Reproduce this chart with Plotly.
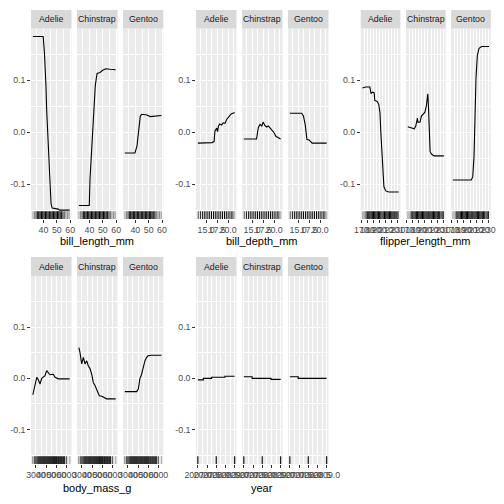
import plotly.graph_objects as go

species = ["Adelie", "Chinstrap", "Gentoo"]

# ---------------- partial dependence curves ----------------
bill_length_adelie_x = [32.1, 39.8, 40.7, 41.4, 41.9, 42.4, 43.2, 44.2, 44.9, 45.7, 46.6, 51.1, 52.0, 59.6]
bill_length_adelie_y = [0.184, 0.184, 0.155, 0.122, 0.090, 0.044, -0.001, -0.047, -0.099, -0.138, -0.146, -0.148, -0.150, -0.150]
bill_length_chinstrap_x = [32.1, 39.9, 40.4, 41.2, 42.4, 43.4, 44.4, 45.7, 47.9, 49.9, 52.4, 55.4, 59.6]
bill_length_chinstrap_y = [-0.141, -0.141, -0.092, -0.053, -0.001, 0.051, 0.090, 0.113, 0.115, 0.119, 0.122, 0.121, 0.120]
bill_length_gentoo_x = [32.1, 39.7, 41.2, 42.4, 43.7, 44.9, 48.7, 51.1, 54.8, 57.3, 59.6]
bill_length_gentoo_y = [-0.040, -0.040, -0.027, -0.001, 0.031, 0.0345, 0.033, 0.030, 0.031, 0.032, 0.032]

bill_depth_adelie_x = [13.1, 16.3, 16.8, 17.0, 17.4, 17.6, 17.8, 18.1, 18.5, 18.9, 19.3, 19.7, 20.2, 20.7, 21.5]
bill_depth_adelie_y = [-0.021, -0.020, -0.018, 0.002, 0.008, 0.001, 0.012, 0.016, 0.014, 0.018, 0.017, 0.025, 0.030, 0.035, 0.038]
bill_depth_chinstrap_x = [13.1, 16.0, 16.4, 16.8, 17.2, 17.5, 17.9, 18.3, 18.7, 19.1, 19.4, 20.0, 20.4, 21.5]
bill_depth_chinstrap_y = [-0.013, -0.013, 0.009, 0.015, 0.012, 0.0195, 0.013, 0.010, 0.012, 0.009, 0.005, -0.001, -0.008, -0.013]
bill_depth_gentoo_x = [13.1, 15.8, 16.2, 16.6, 17.0, 17.5, 18.2, 21.5]
bill_depth_gentoo_y = [0.0365, 0.0365, 0.031, 0.015, -0.014, -0.015, -0.021, -0.021]

flipper_adelie_x = [172, 177, 184, 186, 188, 191, 192, 196, 198.5, 200.5, 202, 203.5, 205.5, 207, 210, 215, 231]
flipper_adelie_y = [0.085, 0.087, 0.087, 0.074, 0.077, 0.076, 0.061, 0.059, 0.054, 0.038, -0.001, -0.040, -0.079, -0.105, -0.113, -0.115, -0.115]
flipper_chinstrap_x = [172, 178, 182.5, 185, 187.7, 188.8, 192, 194.2, 197.5, 199.8, 202.4, 204.7, 205.7, 206.8, 208.5, 210.6, 215, 231]
flipper_chinstrap_y = [0.0105, 0.0086, 0.0066, 0.012, 0.027, 0.019, 0.0195, 0.031, 0.0345, 0.038, 0.051, 0.074, 0.051, -0.001, -0.037, -0.042, -0.0455, -0.0455]
flipper_gentoo_x = [172, 202, 204.4, 206.5, 208.2, 209.8, 212, 214.7, 219, 231]
flipper_gentoo_y = [-0.092, -0.092, -0.086, -0.047, 0.031, 0.106, 0.148, 0.1615, 0.165, 0.165]

body_mass_adelie_x = [2700, 2900, 3080, 3240, 3400, 3570, 3720, 3890, 4050, 4210, 4380, 4700, 4870, 5190, 6300]
body_mass_adelie_y = [-0.032, -0.014, 0.002, -0.003, -0.011, 0.0, 0.002, 0.005, 0.015, 0.010, 0.007, 0.008, 0.002, -0.001, -0.001]
body_mass_chinstrap_x = [2700, 2810, 2980, 3140, 3300, 3470, 3620, 3790, 3960, 4110, 4280, 4450, 4600, 4700, 4940, 5260, 5420, 6300]
body_mass_chinstrap_y = [0.060, 0.0505, 0.028, 0.041, 0.028, 0.034, 0.0245, 0.019, 0.008, -0.008, -0.014, -0.021, -0.030, -0.034, -0.035, -0.039, -0.040, -0.040]
body_mass_gentoo_x = [2700, 3860, 4020, 4180, 4350, 4500, 4670, 4840, 4990, 5330, 6300]
body_mass_gentoo_y = [-0.026, -0.026, -0.021, -0.001, 0.008, 0.021, 0.034, 0.041, 0.044, 0.045, 0.045]

year_adelie_x = [2007, 2007.3, 2007.75, 2008.47, 2009]
year_adelie_y = [-0.003, 0.0, 0.002, 0.004, 0.004]
year_chinstrap_x = [2007, 2007.45, 2008.47, 2009]
year_chinstrap_y = [0.003, 0.0, -0.002, -0.002]
year_gentoo_x = [2007, 2007.45, 2009]
year_gentoo_y = [0.003, 0.0, 0.0]

# ---------------- rug (observed values and counts) ----------------
rug_bill_length = [32.1, 33.3, 34.5, 35.5, 36.5, 37.5, 38.5, 39.5, 40.5, 41.5, 42.5, 43.5, 44.5, 45.5,
                   46.5, 47.5, 48.5, 49.5, 50.5, 51.5, 52.5, 53.5, 54.5, 55.5, 56.5, 57.5, 58.3, 59.6]
rug_bill_length_n = [1, 2, 4, 8, 14, 18, 17, 22, 17, 15, 14, 11, 9, 19, 24, 14, 12, 20, 24, 16, 12, 7, 4, 4, 1, 1, 2, 1]

rug_bill_depth = [13.2, 13.7, 14.2, 14.7, 15.2, 15.7, 16.2, 16.7, 17.2, 17.7, 18.2, 18.7, 19.2, 19.7,
                  20.2, 20.7, 21.1, 21.5]
rug_bill_depth_n = [3, 6, 10, 18, 18, 13, 14, 16, 23, 24, 30, 30, 28, 21, 12, 8, 5, 1]

rug_flipper = [172, 174, 176, 178, 180, 182, 184, 186, 188, 190, 192, 194, 196, 198, 200, 202, 204,
               206, 208, 210, 212, 214, 216, 218, 220, 222, 224, 226, 228, 230]
rug_flipper_n = [1, 1, 2, 4, 7, 6, 12, 18, 17, 33, 22, 20, 24, 16, 12, 10, 5, 6, 12, 20, 12, 14, 16,
                 10, 14, 9, 7, 4, 6, 8]

rug_body_mass = [2700, 2850, 2900, 3000, 3100, 3200, 3300, 3400, 3500, 3600, 3700, 3800, 3900, 4000,
                 4100, 4200, 4300, 4400, 4500, 4600, 4700, 4800, 4900, 5000, 5100, 5200, 5300, 5400,
                 5500, 5600, 5700, 5800, 5950, 6000, 6300]
rug_body_mass_n = [2, 1, 5, 4, 4, 8, 14, 16, 18, 17, 22, 23, 17, 13, 12, 14, 11, 14, 10, 11, 14, 11,
                   9, 11, 5, 8, 5, 6, 6, 5, 6, 6, 1, 3, 1]

rug_year = [2007, 2008, 2009]
rug_year_n = [110, 114, 120]

# ---------------- axis breaks ----------------
y_range = [-0.167, 0.1995]
y_major = [-0.1, 0.0, 0.1]
y_major_text = ["-0.1", "0.0", "0.1"]
y_minor = [-0.15, -0.05, 0.05, 0.15]

panels = [
    dict(title="bill_length_mm", xr=[30.725, 60.975], major=[40, 50, 60], text=["40", "50", "60"],
         minor=[35, 45, 55],
         curves=[(bill_length_adelie_x, bill_length_adelie_y), (bill_length_chinstrap_x, bill_length_chinstrap_y),
                 (bill_length_gentoo_x, bill_length_gentoo_y)],
         rug=(rug_bill_length, rug_bill_length_n), col=0, row=0, shape="linear"),
    dict(title="bill_depth_mm", xr=[12.68, 21.92], major=[15.0, 17.5, 20.0], text=["15.0", "17.5", "20.0"],
         minor=[13.75, 16.25, 18.75, 21.25],
         curves=[(bill_depth_adelie_x, bill_depth_adelie_y), (bill_depth_chinstrap_x, bill_depth_chinstrap_y),
                 (bill_depth_gentoo_x, bill_depth_gentoo_y)],
         rug=(rug_bill_depth, rug_bill_depth_n), col=1, row=0, shape="linear"),
    dict(title="flipper_length_mm", xr=[169.05, 233.95], major=[170, 180, 190, 200, 210, 220, 230],
         text=["170", "180", "190", "200", "210", "220", "230"],
         minor=[175, 185, 195, 205, 215, 225],
         curves=[(flipper_adelie_x, flipper_adelie_y), (flipper_chinstrap_x, flipper_chinstrap_y),
                 (flipper_gentoo_x, flipper_gentoo_y)],
         rug=(rug_flipper, rug_flipper_n), col=2, row=0, shape="linear"),
    dict(title="body_mass_g", xr=[2520, 6480], major=[3000, 4000, 5000, 6000],
         text=["3000", "4000", "5000", "6000"], minor=[3500, 4500, 5500],
         curves=[(body_mass_adelie_x, body_mass_adelie_y), (body_mass_chinstrap_x, body_mass_chinstrap_y),
                 (body_mass_gentoo_x, body_mass_gentoo_y)],
         rug=(rug_body_mass, rug_body_mass_n), col=0, row=1, shape="linear"),
    dict(title="year", xr=[2006.9, 2009.1], major=[2007.0, 2007.5, 2008.0, 2008.5, 2009.0],
         text=["2007.0", "2007.5", "2008.0", "2008.5", "2009.0"],
         minor=[2007.25, 2007.75, 2008.25, 2008.75],
         curves=[(year_adelie_x, year_adelie_y), (year_chinstrap_x, year_chinstrap_y),
                 (year_gentoo_x, year_gentoo_y)],
         rug=(rug_year, rug_year_n), col=1, row=1, shape="hv"),
]

# ---------------- geometry (pixels) ----------------
W = H = 504
col_x = [
    [(31, 71.5), (77, 117.5), (123, 163.3)],
    [(196, 236.5), (242, 282.5), (288, 328.5)],
    [(360.7, 400.4), (406, 445.7), (451.1, 490.8)],
]
row_y = [
    dict(strip=(10, 28.5), panel=(28.5, 219), title=241),
    dict(strip=(257, 276), panel=(276, 464), title=488),
]
RUG_PX = 6.5

FONT = "Liberation Sans, Arial, sans-serif"
PANEL_BG = "#EBEBEB"
STRIP_BG = "#D9D9D9"


def px(x):
    return x / W


def py(y):
    return 1 - y / H


fig = go.Figure()
layout = dict(
    template="none",
    width=W, height=H, autosize=False, margin=dict(l=0, r=0, t=0, b=0, pad=0, autoexpand=False),
    paper_bgcolor="white", plot_bgcolor=PANEL_BG, showlegend=False,
    font=dict(family=FONT, size=8.8, color="#4D4D4D"),
)
shapes = []
annotations = []

span = y_range[1] - y_range[0]

idx = 0
for p in panels:
    geom = row_y[p["row"]]
    y0p, y1p = geom["panel"]
    rug_y = y_range[0] + (RUG_PX / 2) / (y1p - y0p) * span
    for k, sp in enumerate(species):
        idx += 1
        xa = "xaxis" if idx == 1 else f"xaxis{idx}"
        ya = "yaxis" if idx == 1 else f"yaxis{idx}"
        xref = "x" if idx == 1 else f"x{idx}"
        yref = "y" if idx == 1 else f"y{idx}"
        x0, x1 = col_x[p["col"]][k]
        layout[xa] = dict(
            domain=[px(x0), px(x1)], range=p["xr"], anchor=yref, automargin=False,
            tickmode="array", tickvals=p["major"], ticktext=p["text"],
            ticks="outside", ticklen=2.75, tickwidth=1.07, tickcolor="#333333",
            showgrid=True, gridcolor="white", gridwidth=1.07,
            minor=dict(tickmode="array", tickvals=p["minor"], showgrid=True,
                       gridcolor="white", gridwidth=0.53, ticks=""),
            zeroline=False, showline=False, tickangle=0,
            tickfont=dict(family=FONT, size=8.8, color="#4D4D4D"),
            fixedrange=True,
        )
        first = k == 0
        layout[ya] = dict(
            domain=[py(y1p), py(y0p)], range=y_range, anchor=xref, automargin=False,
            tickmode="array", tickvals=y_major, ticktext=y_major_text,
            ticks="outside" if first else "", ticklen=2.75, tickwidth=1.07, tickcolor="#333333",
            showticklabels=first,
            showgrid=True, gridcolor="white", gridwidth=1.07,
            minor=dict(tickmode="array", tickvals=y_minor, showgrid=True,
                       gridcolor="white", gridwidth=0.53, ticks=""),
            zeroline=False, showline=False,
            tickfont=dict(family=FONT, size=8.8, color="#4D4D4D"),
            fixedrange=True,
        )
        # rug
        rv, rn = p["rug"]
        colors = [f"rgba(0,0,0,{1 - 0.75 ** n:.3f})" for n in rn]
        fig.add_trace(go.Scatter(
            x=rv, y=[rug_y] * len(rv), mode="markers", xaxis=xref, yaxis=yref,
            marker=dict(symbol="line-ns", size=RUG_PX, color="black",
                        line=dict(width=1.1, color=colors)),
            hoverinfo="skip",
        ))
        # curve
        cx, cy = p["curves"][k]
        fig.add_trace(go.Scatter(
            x=cx, y=cy, mode="lines", xaxis=xref, yaxis=yref,
            line=dict(color="black", width=1.1, shape=p["shape"]),
            hoverinfo="skip",
        ))
        # strip
        s0, s1 = geom["strip"]
        shapes.append(dict(type="rect", xref="paper", yref="paper",
                           x0=px(x0), x1=px(x1), y0=py(s1), y1=py(s0),
                           fillcolor=STRIP_BG, line=dict(width=0), layer="below"))
        annotations.append(dict(text=sp, xref="paper", yref="paper",
                                x=px((x0 + x1) / 2), y=py((s0 + s1) / 2),
                                showarrow=False, xanchor="center", yanchor="middle",
                                font=dict(family=FONT, size=8.8, color="#1A1A1A")))
    cx0 = col_x[p["col"]][0][0]
    cx1 = col_x[p["col"]][2][1]
    annotations.append(dict(text=p["title"], xref="paper", yref="paper",
                            x=px((cx0 + cx1) / 2), y=py(geom["title"]),
                            showarrow=False, xanchor="center", yanchor="middle",
                            font=dict(family=FONT, size=11, color="black")))

layout["shapes"] = shapes
layout["annotations"] = annotations
fig.update_layout(**layout)
fig.write_html("out.html",
               config={"displayModeBar": False, "responsive": False},
               post_script="document.body.style.margin='0';document.body.style.padding='0';")
